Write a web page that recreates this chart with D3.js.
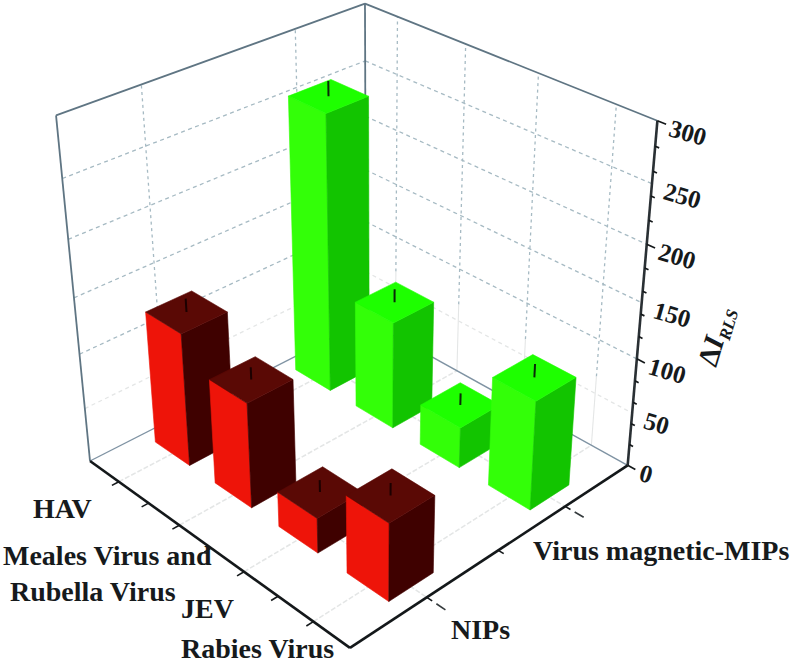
<!DOCTYPE html>
<html>
<head>
<meta charset="utf-8">
<script src="https://cdn.jsdelivr.net/npm/d3@7"></script>
<style>
    html, body { margin: 0; padding: 0; background: #fff; }
    svg { display: block; }
    text { font-family: "Liberation Serif", serif; font-weight: bold; fill: #161a1c; }
</style>
</head>
<body>
<div id="chart"></div>
<script>
// Chart values
const viruses = ["HAV", "Measles", "JEV", "Rabies"];
const seriesNames = ["NIPs", "Virus magnetic-MIPs"];
const nipsValues = [122, 96, 32, 70];
const mipsValues = [255, 100, 38, 100];
const nipsErrors = [12, 11, 11, 11];
const mipsErrors = [13, 12, 11, 12];
const zDomain = [0, 300];

const width = 794, height = 664;

// Face colours per series: left, right, top
const seriesColors = {
    "NIPs": { left: "#ee1409", right: "#3f0100", top: "#5a0905", tick: "#1c0000" },
    "Virus magnetic-MIPs": { left: "#33ff08", right: "#12c400", top: "#1eff00", tick: "#0a2a08" }
};

// Camera: projective matrix columns (u along the virus axis, v along the series axis, w up),
// fitted to the box corners in the picture
const P = {
    o: [90, 461, 1],
    u: [215.4, 104.4, -0.1273],
    v: [323.2, -99.4, 0.1288],
    w: [-39.9, -357.9, -0.106]
};

function project(u, v, w) {
    const h = [0, 1, 2].map(i => P.o[i] + u * P.u[i] + v * P.v[i] + w * P.w[i]);
    return [h[0] / h[2], h[1] / h[2]];
}

// Scales into the unit box
const uScale = d3.scaleBand().domain(viruses).range([0, 1]).paddingInner(0.42).paddingOuter(0.21);
const vScale = d3.scaleBand().domain(seriesNames).range([0, 1]).paddingInner(0.7).paddingOuter(0.35);
const zScale = d3.scaleLinear().domain(zDomain).range([0, 1]);

const svg = d3.select("#chart").append("svg")
    .attr("width", width)
    .attr("height", height);

const polyLine = d3.line();

function seg(g, a, b, color, w, dash) {
    const line = g.append("path")
        .attr("d", polyLine([project(...a), project(...b)]))
        .attr("fill", "none")
        .attr("stroke", color)
        .attr("stroke-width", w)
        .attr("stroke-linecap", "butt");
    if (dash) line.attr("stroke-dasharray", dash);
    return line;
}

// Category centres in box coordinates
const uCenters = viruses.map(d => uScale(d) + uScale.bandwidth() / 2);
const vCenters = seriesNames.map(d => vScale(d) + vScale.bandwidth() / 2);

// Walls and floor grid
const grid = svg.append("g");
const gridColor = "#a6bac3";
const faintColor = "#e4e6e6";

zScale.ticks(6).filter(t => t > 0 && t < 300).forEach(t => {
    const w = zScale(t);
    const c = t <= 50 ? faintColor : gridColor;
    seg(grid, [0, 0, w], [0, 1, w], c, 1.3, "4 3.5");
    seg(grid, [0, 1, w], [1, 1, w], c, 1.3, "4 3.5");
});

vCenters.forEach(v => {
    seg(grid, [0, v, 0.22], [0, v, 1], gridColor, 1.3, "3 3.5");
    seg(grid, [0, v, 0], [0, v, 0.22], faintColor, 1.1);
    seg(grid, [0, v, 0], [1, v, 0], faintColor, 1.6, "5 2");
});
uCenters.forEach(u => {
    seg(grid, [u, 1, 0.22], [u, 1, 1], gridColor, 1.3, "3 3.5");
    seg(grid, [u, 1, 0], [u, 1, 0.22], faintColor, 1.1);
    seg(grid, [u, 0, 0], [u, 1, 0], faintColor, 1.6, "5 2");
});

// Box frame
const frameColor = "#5f7583";
seg(grid, [0, 0, 0], [0, 0, 1], frameColor, 1.8);
seg(grid, [0, 1, 0], [0, 1, 1], frameColor, 1.8);
seg(grid, [0, 0, 1], [0, 1, 1], frameColor, 1.8);
seg(grid, [0, 1, 1], [1, 1, 1], frameColor, 1.8);
seg(grid, [0, 0, 0], [0, 1, 0], "#7f93a3", 1.4);
seg(grid, [0, 1, 0], [1, 1, 0], "#7f93a3", 1.4);

// Bars, far row first, each row from the left corner to the front
const bars = svg.append("g");
const rows = [
    { name: seriesNames[1], values: mipsValues, errors: mipsErrors },
    { name: seriesNames[0], values: nipsValues, errors: nipsErrors }
];

rows.forEach(row => {
    const c = seriesColors[row.name];
    const v0 = vScale(row.name), v1 = v0 + vScale.bandwidth();
    const vc = (v0 + v1) / 2;
    viruses.forEach((name, i) => {
        const u0 = uScale(name), u1 = u0 + uScale.bandwidth();
        const uc = (u0 + u1) / 2;
        const w = zScale(row.values[i]);
        const faces = [
            { pts: [[u0, v0, 0], [u1, v0, 0], [u1, v0, w], [u0, v0, w]], fill: c.left },
            { pts: [[u1, v0, 0], [u1, v1, 0], [u1, v1, w], [u1, v0, w]], fill: c.right },
            { pts: [[u0, v0, w], [u1, v0, w], [u1, v1, w], [u0, v1, w]], fill: c.top }
        ];
        faces.forEach(f => {
            bars.append("path")
                .attr("d", polyLine(f.pts.map(p => project(...p))) + "Z")
                .attr("fill", f.fill)
                .attr("stroke", f.fill)
                .attr("stroke-width", 0.6);
        });
        // upper error whisker from the centre of the top face
        seg(bars, [uc, vc, w], [uc, vc, zScale(row.values[i] + row.errors[i])], c.tick, 2);
    });
});

// Axes
const axes = svg.append("g");
const axisColor = "#14181a";
seg(axes, [0, 0, 0], [1, 0, 0], axisColor, 2.6);
seg(axes, [1, 0, 0], [1, 1, 0], axisColor, 2.6);
seg(axes, [1, 1, 0], [1, 1, 1], "#2a3034", 2.6);

// virus axis ticks point away from the box
d3.range(1, 8).forEach(k => {
    seg(axes, [k / 8, 0, 0], [k / 8, -0.022, 0], axisColor, 1.6);
});

// series axis ticks
d3.range(1, 4).forEach(k => {
    seg(axes, [1, k / 4, 0], [1.018, k / 4, 0], axisColor, 1.6);
    if (k !== 2) seg(axes, [1.032, k / 4, 0], [1.062, k / 4, 0], "#343a3c", 1.6);
});

// value axis ticks and labels
zScale.ticks(12).forEach(t => {
    const major = t % 50 === 0;
    seg(axes, [1, 1, zScale(t)], [major ? 1.026 : 1.012, 1, zScale(t)], axisColor, 1.7);
});

zScale.ticks(6).forEach(t => {
    const p = project(1, 1, zScale(t));
    axes.append("text")
        .attr("transform", `translate(${p[0] + 10},${p[1] + 15}) rotate(16)`)
        .attr("font-size", 25)
        .text(t);
});

// Axis title
const title = svg.append("text")
    .attr("transform", "translate(716,368) rotate(-73)")
    .attr("font-size", 29);
title.append("tspan").text("Δ");
title.append("tspan").attr("font-style", "italic").text("I");
title.append("tspan").attr("font-style", "italic").attr("font-size", 17).attr("dy", 5).text("RLS");

// Category labels
const virusLabels = [["HAV"], ["Meales Virus and", "Rubella Virus"], ["JEV"], ["Rabies Virus"]];
const virusLabelPos = [[[33, 518]], [[3, 565], [10, 601]], [[181, 618]], [[181, 658]]];
const seriesLabels = ["NIPs", "Virus magnetic-MIPs"];
const seriesLabelPos = [[451, 639], [533, 560]];

const labelG = svg.append("g").attr("font-size", 28);
virusLabels.forEach((lines, i) => {
    lines.forEach((s, j) => {
        labelG.append("text")
            .attr("x", virusLabelPos[i][j][0])
            .attr("y", virusLabelPos[i][j][1])
            .text(s);
    });
});
seriesLabels.forEach((s, i) => {
    labelG.append("text")
        .attr("x", seriesLabelPos[i][0])
        .attr("y", seriesLabelPos[i][1])
        .text(s);
});
</script>
</body>
</html>
